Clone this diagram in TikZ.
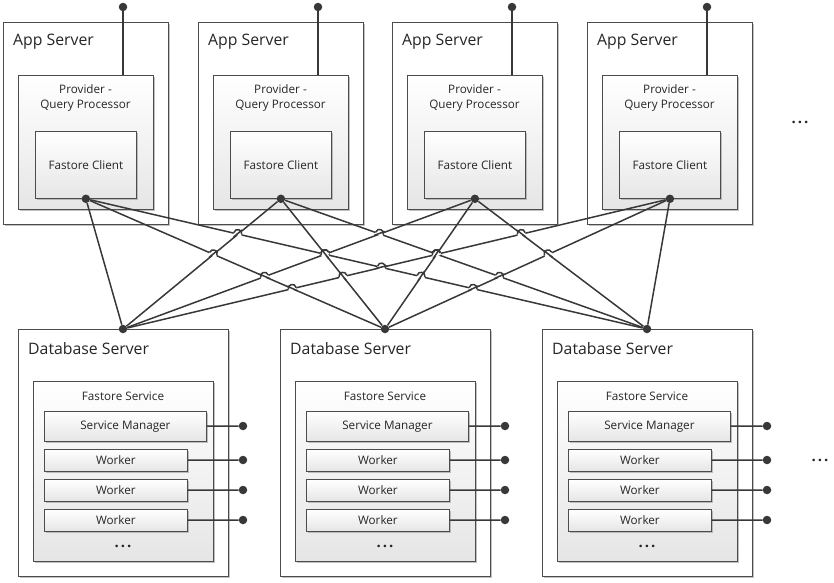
\documentclass[tikz,border=0pt]{standalone}
\usepackage{fontspec}
\setmainfont{Open Sans}
\usetikzlibrary{shadows}

\tikzset{
  box/.style={rectangle, draw=black!70, line width=0.8pt, fill=white, inner sep=0pt, anchor=north west,
    drop shadow={shadow xshift=2pt, shadow yshift=-2pt, fill=black!40, opacity=0.6}},
  shadedbox/.style={box, top color=white, bottom color=black!10},
  bigtext/.style={font=\fontsize{15.8}{18}\selectfont, text=black!85, inner sep=0pt},
  smalltext/.style={font=\fontsize{11.7}{15}\selectfont, text=black!85},
  moretext/.style={font=\fontsize{15}{18}\selectfont\bfseries, text=black!85},
  conn/.style={draw=black!78, line width=1.5pt},
  dot/.style={circle, fill=black!78, inner sep=0pt, minimum size=8.5pt},
}

\begin{document}
\begin{tikzpicture}[x=1pt,y=-1pt]
\useasboundingbox (0,0) rectangle (834,582);
% app servers
\foreach \i in {0,...,3} {
  \pgfmathsetmacro\ax{round(3+194.67*\i)}
  \node[box, minimum width=165pt, minimum height=202pt] (app\i) at (\ax,22) {};
  \node[bigtext, anchor=west] (appname\i) at (\ax+10,42) {App Server};
  \node[shadedbox, minimum width=135pt, minimum height=134pt] (prov\i) at (\ax+15,75) {};
  \node[smalltext, align=center] (provname\i) at (\ax+82.5,97.5) {Provider -\\Query Processor};
  \node[shadedbox, smalltext, minimum width=101pt, minimum height=67pt] (cli\i) at (\ax+32,131) {Fastore Client};
  \node[dot] (pin\i) at (\ax+120,7) {};
  \draw[conn] (pin\i) -- (pin\i |- prov\i.north);
  \node[dot] (cd\i) at (cli\i.south) {};
}
% database servers
\foreach \j in {0,1,2} {
  \pgfmathsetmacro\bx{18+262*\j}
  \node[box, minimum width=210pt, minimum height=247pt] (db\j) at (\bx,329) {};
  \node[bigtext, anchor=west] (dbname\j) at (\bx+10,349) {Database Server};
  \node[shadedbox, minimum width=180pt, minimum height=180pt] (svc\j) at (\bx+15,381) {};
  \node[smalltext] (svcname\j) at (\bx+105,396) {Fastore Service};
  \node[shadedbox, smalltext, minimum width=162pt, minimum height=30pt] (mgr\j) at (\bx+26,411) {Service Manager};
  \node[dot] (mgrpin\j) at (\bx+225,426) {};
  \draw[conn] (mgr\j) -- (mgrpin\j);
  \foreach \k in {0,1,2} {
    \node[shadedbox, smalltext, minimum width=143pt, minimum height=22pt] (wk\j\k) at (\bx+26,449+30*\k) {Worker};
    \node[dot] (wkpin\j\k) at (\bx+225,460+30*\k) {};
    \draw[conn] (wk\j\k) -- (wkpin\j\k);
  }
  \node[moretext] (more\j) at (\bx+105,546) {.\hspace{2pt}.\hspace{2pt}.};
  \node[dot] (dbpin\j) at (\bx+105,329) {};
}
% every client to every database
\foreach \i in {0,...,3}
  \foreach \j in {0,1,2}
    \draw[conn] (cd\i) -- (dbpin\j);
% line jumps where two links cross
\foreach \i in {0,...,3}
 \foreach \k in {0,...,3}
  \foreach \j in {0,1,2}
   \foreach \l in {0,1,2} {
    \ifnum\i<\k\relax \ifnum\j>\l\relax
      \pgfmathsetmacro\hxa{round(3+194.67*\i)+82.5}
      \pgfmathsetmacro\hxb{round(3+194.67*\k)+82.5}
      \pgfmathsetmacro\hda{123+262*\j-\hxa}
      \pgfmathsetmacro\hdb{123+262*\l-\hxb}
      \pgfmathsetmacro\htc{(\hxb-\hxa)/(\hda-\hdb)}
      \pgfmathsetmacro\hx{\hxa+\htc*\hda}
      \pgfmathsetmacro\hy{198+131*\htc}
      \pgfmathsetmacro\hsd{abs(\hda)>=abs(\hdb) ? \hda : \hdb}
      \pgfmathsetmacro\htd{abs(\hda)>=abs(\hdb) ? \hdb : \hda}
      \pgfmathsetmacro\hsl{veclen(\hsd,131)}
      \pgfmathsetmacro\htl{veclen(\htd,131)}
      \pgfmathsetmacro\hux{4*\hsd/\hsl}
      \pgfmathsetmacro\huy{4*131/\hsl}
      \pgfmathsetmacro\hnx{5.3*sign(\hsd)*131/\hsl}
      \pgfmathsetmacro\hny{-5.3*abs(\hsd)/\hsl}
      \pgfmathsetmacro\hvx{5.5*\htd/\htl}
      \pgfmathsetmacro\hvy{5.5*131/\htl}
      \draw[white, line width=3.8pt] (\hx-\hux,\hy-\huy) -- (\hx+\hux,\hy+\huy);
      \draw[conn] (\hx-\hvx,\hy-\hvy) -- (\hx+\hvx,\hy+\hvy);
      \draw[conn] (\hx-\hux,\hy-\huy) .. controls (\hx-\hux+\hnx,\hy-\huy+\hny) and (\hx+\hux+\hnx,\hy+\huy+\hny) .. (\hx+\hux,\hy+\huy);
    \fi\fi
   }
\node[moretext] (moreapps) at (800,122) {.\hspace{2pt}.\hspace{2pt}.};
\node[moretext] (moredbs) at (820,460) {.\hspace{2pt}.\hspace{2pt}.};
\end{tikzpicture}
\end{document}
